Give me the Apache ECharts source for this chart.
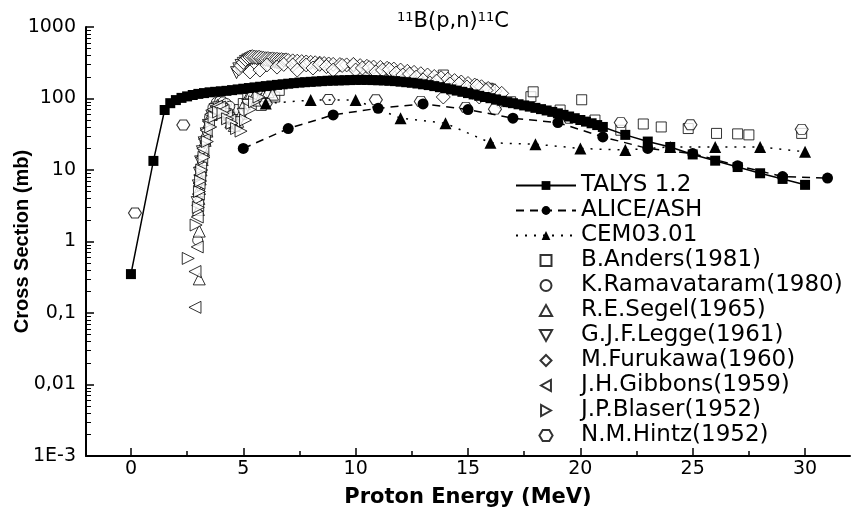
<!DOCTYPE html>
<html>
<head>
<meta charset="utf-8">
<script src="https://cdn.jsdelivr.net/npm/echarts@6/dist/echarts.min.js"></script>
<style>html,body{margin:0;padding:0;background:#fff}#c{width:853px;height:518px}</style>
</head>
<body>
<div id="c"></div>
<script>
// ---- data (energy MeV, cross section mb) ----
const talysE = [0,1,1.5,1.75,2,2.25,2.5,2.75,3,3.25,3.5,3.75,4,4.25,4.5,4.75,5,5.25,5.5,5.75,6,6.25,6.5,6.75,7,7.25,7.5,7.75,8,8.25,8.5,8.75,9,9.25,9.5,9.75,10,10.25,10.5,10.75,11,11.25,11.5,11.75,12,12.25,12.5,12.75,13,13.25,13.5,13.75,14,14.25,14.5,14.75,15,15.25,15.5,15.75,16,16.25,16.5,16.75,17,17.25,17.5,17.75,18,18.25,18.5,18.75,19,19.25,19.5,19.75,20,20.25,20.5,20.75,21,22,23,24,25,26,27,28,29,30];
const talysV = [0.35,13.4,69,86,95,102,107,112,116,119,122,124,126,128,131,134,137,140,143,146,149,152,155,158,161,164,167,169,171,173,175,177,178,179,180,181,182,182,182,181,180,179,177,175,172,169,166,162,158,154,149,144,139,134,129,124,119,114,109,105,101,97,93,89,86,83,80,77,74,71,68,65,62,59,56,53,50,47.5,45,42.5,40,31,25,21,16.5,13.5,11,9,7.5,6.2];

const aliceE = [5,7,9,11,13,15,17,19,21,23,25,27,29,31];
const aliceV = [20,38,59,73,84,70,53,46,29,20,17,11.5,8.1,7.7];

const cemE = [6,8,10,12,14,16,18,20,22,24,26,28,30];
const cemV = [85,95,95,53,45,24,23,20,19,21,21,21,18];

const andersE = [4.6,4.8,5.0,5.2,5.4,5.6,5.8,6.0,6.2,6.4,6.6,13.9,15.9,16.0,16.9,17.8,17.9,19.1,20.06,20.65,21.8,22.8,23.6,24.8,26.06,27.0,27.5,29.85];
const andersV = [55,70,85,100,112,95,80,100,120,105,130,213,139,135,90,106,124,69,96,50,36,44,40,38,32.5,32,31,32.5];

const ramaE = [2.97,3.3,3.5,3.65,3.8,3.95,4.1,4.25,4.4];
const ramaV = [1.04,25,55,75,88,92,90,85,78];

const segelE = [3.04,3.04,3.0,3.02,3.05,3.08,3.12,3.17,3.23,3.3,3.38,3.47,3.57,3.7,3.85,4.0,4.15,4.3,4.45,4.6,4.75,4.9,5.05,5.2,5.35,5.5,5.7,5.9,6.1,6.3];
const segelV = [0.3,1.4,2.8,4,5.5,7.5,10,14,19,26,35,47,60,72,80,75,65,55,47,42,48,62,85,105,120,110,95,110,125,115];

const leggeE = [2.95,3.0,3.05,3.1,3.18,3.26,3.35,3.45,3.6,3.75,3.9,4.05,4.2,4.35,4.5,4.65,4.8,5.0,5.2,
  4.7,4.8,4.9,5.0,5.1,5.2,5.3,5.4,5.5,5.6,5.7,5.8,5.9,6.0,6.1,6.2,6.3,6.4,6.5,6.6];
const leggeV = [3.5,6,9,13,18,24,32,42,57,70,74,70,60,52,45,40,46,60,80,
  230,260,290,310,330,345,355,360,365,360,355,350,345,340,335,330,325,320,315,310];

const furuE = [4.8,4.9,5.0,5.1,5.2,5.3,5.4,5.5,5.6,5.7,5.8,5.9,6.0,6.1,6.2,6.3,6.4,6.5,6.6,6.7,6.8,6.9,7.0,7.2,7.4,7.6,7.8,8.0,8.2,8.4,8.6,8.8,9.0,9.3,9.6,9.9,10.2,10.5,10.8,11.1,11.4,11.7,12.0,12.3,12.6,12.9,13.2,13.5,13.8,14.1,14.4,14.7,15.0,15.3,15.6,15.9,16.2,16.5,
  5.3,5.74,6.05,6.5,6.8,7.2,7.4,7.8,8.1,8.4,8.7,9.0,9.4,9.9,10.0,10.3,10.6,10.9,11.2,11.5,11.8,12.1,12.4,12.7,13.0,13.3,13.6,13.9,14.2,14.6,14.95,15.2,15.4,15.5,15.8,16.4];
const furuV = [260,290,320,350,370,380,385,380,375,378,370,365,360,362,356,358,352,354,348,350,345,347,340,336,332,328,324,320,316,312,308,304,300,298,295,290,288,282,275,272,265,258,250,240,232,222,213,203,195,186,178,170,162,154,146,138,128,118,
  235,250,294,275,300,294,250,295,267,300,280,250,290,300,250,267,270,235,250,255,227,213,220,200,182,165,175,105,160,160,145,122,150,105,130,90];

const gibbE = [2.85,2.85,2.95,2.95,2.97,3.0,3.03,3.06,3.1,3.15,3.2,3.27,3.35,3.45,3.55,3.65,3.8,3.95,4.1,4.25,4.4];
const gibbV = [0.12,0.38,0.84,2.2,3.2,4.6,6.5,8.5,11,15,20,27,36,48,60,70,78,76,68,58,50];

const blaserE = [2.55,2.9,3.0,3.05,3.1,3.15,3.25,3.4,3.55,3.7,3.9,4.1,4.3,4.5,4.7,4.9,5.1,5.3,5.5,5.7];
const blaserV = [0.58,1.7,3,5,7,10,15,25,40,55,65,62,52,45,38,35,50,70,90,105];

const hintzE = [0.18,2.33,6.0,8.8,10.9,12.9,14.9,16.2,19.5,21.8,24.9,29.85];
const hintzV = [2.5,42.6,85,97,96,91,75,71,53,46,43,37];

const xMajor = [0,5,10,15,20,25,30];
const xMinor = [2.5,7.5,12.5,17.5,22.5,27.5];
const yMajor = [0.001,0.01,0.1,1,10,100,1000];
const yLabels = {'0.001':'1E-3','0.01':'0,01','0.1':'0,1','1':'1','10':'10','100':'100','1000':'1000'};
const yMinor = [];
[0.001,0.01,0.1,1,10,100].forEach(function(d){for(let k=2;k<=9;k++){yMinor.push(+(d*k).toPrecision(3));}});

const names = ['TALYS 1.2','ALICE/ASH','CEM03.01','B.Anders(1981)','K.Ramavataram(1980)','R.E.Segel(1965)','G.J.F.Legge(1961)','M.Furukawa(1960)','J.H.Gibbons(1959)','J.P.Blaser(1952)','N.M.Hintz(1952)'];

// ---- chart ----
function pairs(e, v){ return e.map(function(x,i){return [x, v[i]];}); }
const FONT = 'DejaVu Sans';
const SYM = {
  rect: 'path://M0,0L10,0L10,10L0,10Z',
  up: 'path://M5,0L10,9L0,9Z',
  down: 'path://M0,0L10,0L5,9Z',
  left: 'path://M9,0L9,10L0,5Z',
  right: 'path://M0,0L0,10L9,5Z',
  diamond: 'path://M5,0L10,5L5,10L0,5Z',
  hex: 'path://M3,0L9,0L12,5L9,10L3,10L0,5Z'
};
function open(name, e, v, symbol, size){
  return {name:name, type:'scatter', data:pairs(e,v), symbol:symbol, symbolSize:size,
    itemStyle:{color:'#fff', borderColor:'#000', borderWidth:1}, emphasis:{disabled:true}};
}
const chart = echarts.init(document.getElementById('c'), null, {renderer:'canvas'});
const axisLine = {show:true, onZero:false, lineStyle:{color:'#000', width:2}};
chart.setOption({
  animation:false,
  backgroundColor:'#fff',
  title:{text:'{s|11}B(p,n){s|11}C', left:392, top:6,
    textStyle:{fontFamily:FONT, fontSize:21, fontWeight:'normal', color:'#000',
      rich:{s:{fontSize:13, fontFamily:FONT, verticalAlign:'top', color:'#000'}}}},
  grid:{left:86, right:3, top:27, bottom:62, containLabel:false, outerBoundsMode:'none'},
  legend:{orient:'vertical', left:510, top:169, itemWidth:60, itemHeight:11, itemGap:2, symbolKeepAspect:true,
    textStyle:{fontFamily:FONT, fontSize:23, color:'#000'}, data:names, selectedMode:false},
  xAxis:[
    {type:'value', min:-2, max:32, axisLine:axisLine, splitLine:{show:false},
     axisTick:{inside:true, length:8, customValues:xMajor, lineStyle:{color:'#000', width:1.5}},
     axisLabel:{customValues:xMajor, fontFamily:FONT, fontSize:19, color:'#000', margin:4},
     name:'Proton Energy (MeV)', nameLocation:'middle', nameGap:31,
     nameTextStyle:{fontFamily:FONT, fontSize:21, fontWeight:'bold', color:'#000'}},
    {type:'value', min:-2, max:32, position:'bottom', axisLine:{show:false, onZero:false}, splitLine:{show:false},
     axisTick:{inside:true, length:5, customValues:xMinor, lineStyle:{color:'#000', width:1.5}},
     axisLabel:{show:false}}
  ],
  yAxis:[
    {type:'log', logBase:10, min:0.001, max:1000, axisLine:axisLine, splitLine:{show:false},
     axisTick:{inside:true, length:8, customValues:yMajor, lineStyle:{color:'#000', width:1.5}},
     axisLabel:{customValues:yMajor, fontFamily:FONT, fontSize:19, color:'#000', margin:10,
       formatter:function(v){ const k = String(+v.toPrecision(3)); return yLabels[k] !== undefined ? yLabels[k] : ''; }},
     name:'Cross Section (mb)', nameLocation:'middle', nameGap:54, nameMoveOverlap:false,
     nameTextStyle:{fontFamily:'Liberation Sans', fontSize:20, fontWeight:'bold', color:'#000'}},
    {type:'log', logBase:10, min:0.001, max:1000, position:'left', axisLine:{show:false, onZero:false}, splitLine:{show:false},
     axisTick:{inside:true, length:5, customValues:yMinor, lineStyle:{color:'#000', width:1}},
     axisLabel:{show:false}}
  ],
  series:[
    {name:names[0], type:'line', data:pairs(talysE,talysV), symbol:SYM.rect, symbolSize:10,
     itemStyle:{color:'#000'}, lineStyle:{color:'#000', width:1.5}, emphasis:{disabled:true}},
    {name:names[1], type:'line', data:pairs(aliceE,aliceV), symbol:'circle', symbolSize:11,
     itemStyle:{color:'#000'}, lineStyle:{color:'#000', width:1.5, type:[8,6]}, emphasis:{disabled:true}},
    {name:names[2], type:'line', data:pairs(cemE,cemV), symbol:SYM.up, symbolSize:12,
     itemStyle:{color:'#000'}, lineStyle:{color:'#000', width:1.5, type:[2,7]}, emphasis:{disabled:true}},
    open(names[3], andersE, andersV, SYM.rect, 10),
    open(names[4], ramaE, ramaV, 'circle', 10),
    open(names[5], segelE, segelV, SYM.up, 12),
    open(names[6], leggeE, leggeV, SYM.down, 12),
    open(names[7], furuE, furuV, SYM.diamond, 14),
    open(names[8], gibbE, gibbV, SYM.left, 12),
    open(names[9], blaserE, blaserV, SYM.right, 12),
    open(names[10], hintzE, hintzV, SYM.hex, [13,10])
  ]
});
</script>
</body>
</html>
